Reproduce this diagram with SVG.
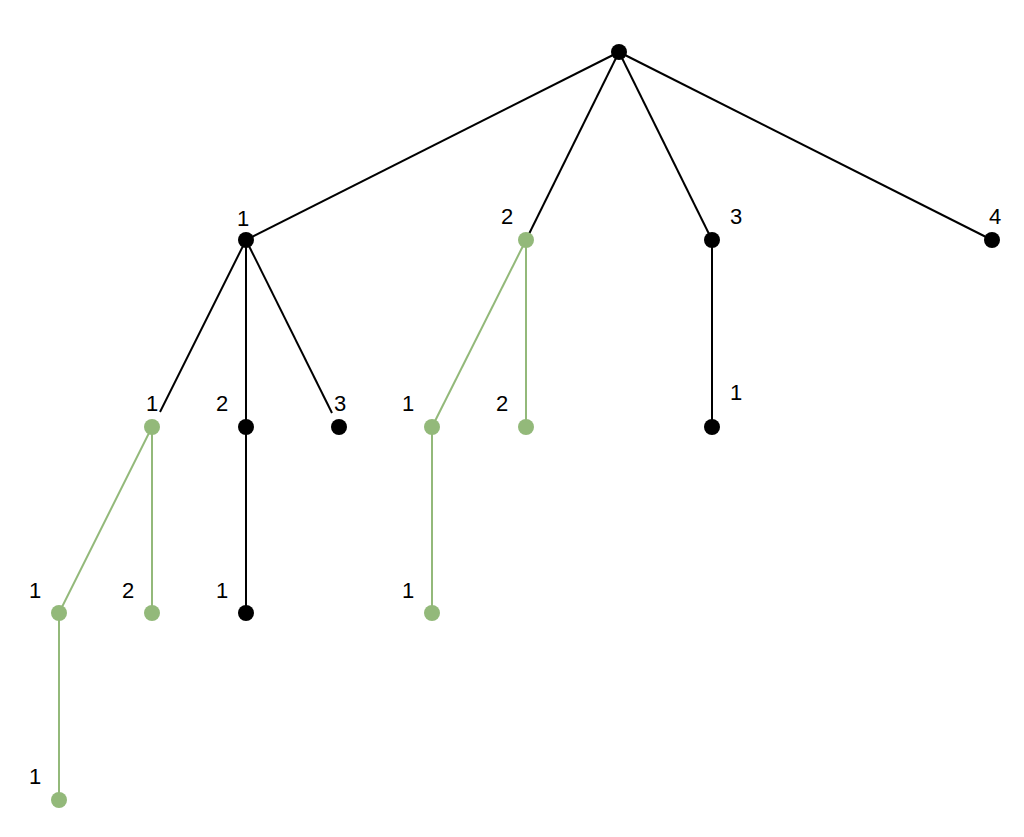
<svg xmlns="http://www.w3.org/2000/svg" width="1024" height="837" viewBox="0 0 1024 837">
<style>
.e{stroke:#000;stroke-width:2;fill:none}
.g{stroke:#93b97a;stroke-width:2;fill:none}
.nb{fill:#000}
.ng{fill:#93b97a}
text{font-family:"Liberation Sans",Arial,sans-serif;font-size:22px;fill:#000;text-anchor:middle}
</style>
<rect width="1024" height="837" fill="#fff"/>
<g id="connectors">
<line class="e" x1="619" y1="52" x2="246" y2="240"/>
<line class="e" x1="619" y1="52" x2="526" y2="240"/>
<line class="e" x1="619" y1="52" x2="712" y2="240"/>
<line class="e" x1="619" y1="52" x2="992" y2="240"/>
<line class="e" x1="246" y1="240" x2="160" y2="412"/>
<line class="e" x1="246" y1="240" x2="246" y2="427"/>
<line class="e" x1="246" y1="240" x2="332" y2="413"/>
<line class="e" x1="712" y1="240" x2="712" y2="427"/>
<line class="e" x1="246" y1="427" x2="246" y2="613"/>
<line class="g" x1="526" y1="240" x2="432" y2="427"/>
<line class="g" x1="526" y1="240" x2="526" y2="427"/>
<line class="g" x1="432" y1="427" x2="432" y2="613"/>
<line class="g" x1="152" y1="427" x2="59" y2="613"/>
<line class="g" x1="152" y1="427" x2="152" y2="613"/>
<line class="g" x1="59" y1="613" x2="59" y2="800"/>
</g>
<g id="root"><circle class="nb" cx="619" cy="52" r="8"/></g>
<g id="n1"><circle class="nb" cx="246" cy="240" r="8"/><text x="243" y="226">1</text></g>
<g id="n2"><circle class="ng" cx="526" cy="240" r="8"/><text x="507" y="224">2</text></g>
<g id="n3"><circle class="nb" cx="712" cy="240" r="8"/><text x="736" y="224">3</text></g>
<g id="n4"><circle class="nb" cx="992" cy="240" r="8"/><text x="995" y="224">4</text></g>
<g id="n1_1"><circle class="ng" cx="152" cy="427" r="8"/><text x="152" y="411">1</text></g>
<g id="n1_2"><circle class="nb" cx="246" cy="427" r="8"/><text x="222" y="411">2</text></g>
<g id="n1_3"><circle class="nb" cx="339" cy="427" r="8"/><text x="340" y="411">3</text></g>
<g id="n2_1"><circle class="ng" cx="432" cy="427" r="8"/><text x="408" y="411">1</text></g>
<g id="n2_2"><circle class="ng" cx="526" cy="427" r="8"/><text x="502" y="411">2</text></g>
<g id="n3_1"><circle class="nb" cx="712" cy="427" r="8"/><text x="736" y="400">1</text></g>
<g id="n1_1_1"><circle class="ng" cx="59" cy="613" r="8"/><text x="35" y="598">1</text></g>
<g id="n1_1_2"><circle class="ng" cx="152" cy="613" r="8"/><text x="128" y="598">2</text></g>
<g id="n1_2_1"><circle class="nb" cx="246" cy="613" r="8"/><text x="222" y="598">1</text></g>
<g id="n2_1_1"><circle class="ng" cx="432" cy="613" r="8"/><text x="408" y="598">1</text></g>
<g id="n1_1_1_1"><circle class="ng" cx="59" cy="800" r="8"/><text x="35" y="784">1</text></g>
</svg>
